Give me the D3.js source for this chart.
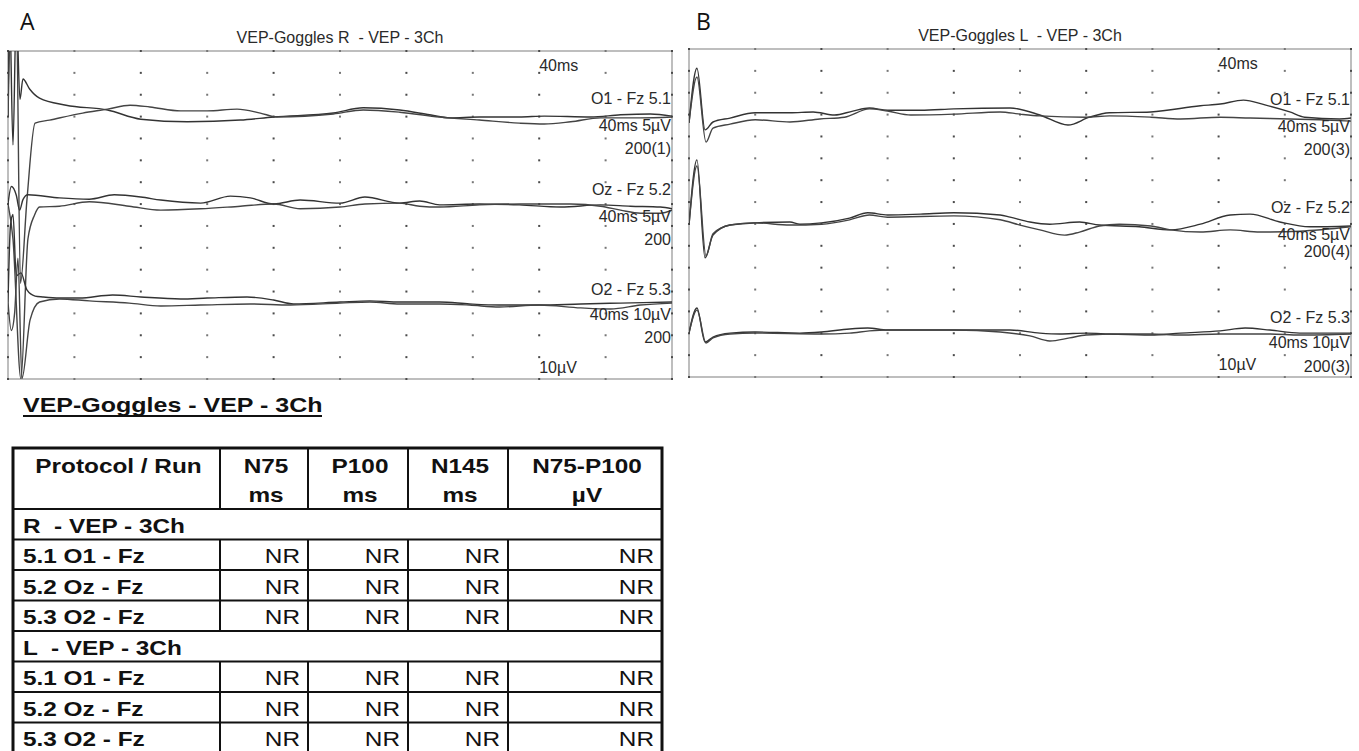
<!DOCTYPE html>
<html><head><meta charset="utf-8">
<script src="https://cdn.jsdelivr.net/npm/d3@7/dist/d3.min.js"></script>
<style>
html,body{margin:0;padding:0;background:#fff;}
svg{display:block;}
text{white-space:pre;}
</style></head><body>
<svg id="chart" width="1359" height="751"></svg>
<script>
// ---------------- DATA ----------------
const timeDomainMs = [0, 400];          // 10 divisions of 40 ms
const divisionsX = 10, divisionsY = 15;
const panelLetters = ["A", "B"];
const panelTitles = ["VEP-Goggles R  - VEP - 3Ch", "VEP-Goggles L  - VEP - 3Ch"];
const channelNames = ["O1 - Fz 5.1", "Oz - Fz 5.2", "O2 - Fz 5.3"];
const channelSensitivity = [5, 5, 10];   // µV per division
const channelScaleText = ["40ms 5µV", "40ms 5µV", "40ms 10µV"];
const rightSweeps = ["200(1)", "200", "200"];
const leftSweeps = ["200(3)", "200(4)", "200(3)"];
const timeBarLabel = "40ms";
const ampBarLabel = "10µV";

// traces: [ms, µV]  (right eye)
const R_O1_run1 = [[0,0],[1,25],[3,-6.4],[5,25],[7.2,4],[9,8.7],[13,6.4],[19,4.3],[35,2.7],[60,1.6],[80,-0.5],[108,-1.1],[140,-0.7],[160,0],[196,0.9],[214,2.1],[236,1.6],[254,0.5],[266,-0.2],[284,0],[308,0],[323,0.2],[351,0],[369,0.5],[387,0.7],[400,0.2]];
const R_O1_run2 = [[0,0],[2,25],[5,25],[7.5,-38],[11.4,-19],[16.3,-1.4],[25,-0.7],[45,0.9],[60,1.8],[73.5,2.7],[85.5,2.3],[104,1.4],[120,1.4],[138,1.8],[152,0.9],[162,0],[196,0.7],[214,1.6],[236,1.1],[260,0],[284,-0.7],[308,-1.4],[323,-1.6],[339,-1.1],[357,-0.2],[381,-0.2],[400,0]];
const R_Oz_run1 = [[0,0],[2,4],[5,2],[7,-1.4],[9,1],[12,2.1],[31,1.4],[49,1.1],[64,2.1],[80,1.6],[92,0.9],[116,0.2],[134,1.8],[146,1.4],[160,0],[176,0.9],[200,0.2],[215,1.6],[236,0.2],[248,0.7],[260,-0.2],[284,0],[308,-0.2],[333,-0.7],[357,-0.2],[375,-0.5],[393,-0.7],[400,-1.1]];
const R_Oz_run2 = [[0,0],[3,-8],[7.8,-40],[12,-8],[16,-2.5],[19,-0.7],[31,-0.5],[49,0.5],[73,-0.5],[92,-1.4],[116,-1.1],[140,-0.5],[160,0],[176,-1.1],[200,-0.7],[215,0],[236,0.2],[248,-0.5],[260,-0.7],[284,-0.2],[308,0],[339,0],[357,-0.5],[369,-1.4],[381,-2.1],[393,-2.1],[400,-1.4]];
const R_O2_run1 = [[0,0],[1.5,35],[3,40],[5,12],[7.8,13.3],[11.4,5.5],[16.3,2.7],[21,2.3],[31,1.8],[43,1.8],[63,3.2],[80,2.3],[104,1.4],[120,1.8],[144,2.3],[160,0.9],[172,-0.9],[200,0],[218,0.5],[236,0],[260,0],[278,-0.9],[296,-1.4],[320,-1.4],[345,-0.9],[369,-0.5],[400,0]];
const R_O2_run2 = [[0,0],[2,-13],[4,-5],[6,20],[8.4,-35],[13.3,-8.2],[19,0],[31,1.4],[49,0.5],[73,-0.5],[92,-1.8],[116,-1.4],[146,-0.9],[170,-1.4],[200,-0.5],[218,0],[236,-0.9],[260,-0.9],[278,-1.4],[296,-2.3],[320,-1.4],[345,-2.7],[363,-3.2],[381,-1.4],[400,-0.5]];

// traces: [ms, µV]  (left eye)
const L_O1_run1 = [[0,-1.8],[4.8,10.7],[9.7,-3.4],[14.5,-1.6],[24.8,-0.7],[40,0.5],[61,0.5],[75,0.7],[88,0],[99,0.9],[109,1.6],[120,1.1],[140,1.1],[160,1.4],[194,1.6],[212,0],[229,-2.3],[242,-0.5],[254,0.5],[279,0.7],[309,2.1],[321,2.5],[335,3.4],[348,2.3],[363,0.7],[372,-0.5],[393,-0.9],[400,-0.7]];
const L_O1_run2 = [[0,-1.8],[4.8,8.7],[10.3,-6.2],[14.5,-3],[24.8,-2.1],[40,-1.1],[61,-1.6],[79,-0.9],[94,-0.5],[109,1.4],[120,0.9],[134,0],[160,0.2],[188,0.7],[200,0.2],[212,-0.2],[240,-0.5],[254,-0.2],[279,-0.5],[297,-0.9],[321,-0.5],[339,-0.7],[363,-0.9],[381,-1.1],[400,-1.4]];
const L_Oz_run1 = [[0,-0.7],[4.8,14.2],[9.7,-8.2],[14.5,-3],[24.8,-0.7],[40,-0.2],[61,0],[67,-0.5],[80,-0.2],[97,0.9],[108,2.1],[120,1.6],[140,1.8],[160,2.1],[188,1.6],[194,1.1],[206,0],[218,-0.5],[236,0],[248,-0.7],[272,-1.1],[291,-1.8],[309,-0.5],[327,1.6],[339,1.8],[357,0],[375,-1.1],[400,-0.9]];
const L_Oz_run2 = [[0,-0.7],[4.8,12.8],[10.3,-7.8],[14.5,-2.7],[24.8,-0.7],[40,-0.2],[61,-0.7],[80,-0.5],[97,0.5],[109,1.6],[120,1.1],[160,1.4],[188,0.5],[200,-0.7],[212,-1.8],[227,-3],[236,-2.3],[248,-0.9],[260,-0.5],[279,-0.9],[291,-1.8],[309,-2.3],[327,-1.8],[345,-2.3],[369,-2.1],[400,-1.1]];
const L_O2_run1 = [[0,-0.5],[4.8,11],[9.7,-4.6],[14.5,-2.3],[24.8,-0.5],[40,0],[67,-0.5],[80,0],[97,1.4],[108,1.8],[120,0.9],[160,0.9],[194,0.9],[212,-0.5],[224,-0.9],[240,-0.5],[254,-0.9],[279,-1.4],[297,-0.5],[321,0.5],[336,1.8],[351,0.9],[369,-0.5],[400,-0.5]];
const L_O2_run2 = [[0,-0.5],[4.8,10],[10.3,-5],[14.5,-2.7],[24.8,-0.9],[40,-0.5],[80,-0.9],[97,-0.5],[109,0.5],[120,0.9],[160,0.9],[188,0],[206,-1.8],[218,-4.1],[230,-2.7],[240,-1.4],[260,-0.9],[279,-0.9],[297,-1.4],[321,-0.9],[351,-0.9],[369,-1.4],[400,-0.9]];

const rightTraces = [[R_O1_run1, R_O1_run2], [R_Oz_run1, R_Oz_run2], [R_O2_run1, R_O2_run2]];
const leftTraces  = [[L_O1_run1, L_O1_run2], [L_Oz_run1, L_Oz_run2], [L_O2_run1, L_O2_run2]];

// table
const tableTitle = "VEP-Goggles - VEP - 3Ch";
const tableColumns = ["Protocol / Run", "N75", "P100", "N145", "N75-P100"];
const tableUnits = ["", "ms", "ms", "ms", "µV"];
const tableSections = ["R  - VEP - 3Ch", "L  - VEP - 3Ch"];
const tableRuns = ["5.1 O1 - Fz", "5.2 Oz - Fz", "5.3 O2 - Fz"];
const rightResults = [["NR","NR","NR","NR"],["NR","NR","NR","NR"],["NR","NR","NR","NR"]];
const leftResults  = [["NR","NR","NR","NR"],["NR","NR","NR","NR"],["NR","NR","NR","NR"]];

// ---------------- DRAW ----------------
const svg = d3.select("#chart");
const FONT = "'Liberation Sans', Arial, sans-serif";

const panels = [
  {x0: 8, x1: 672, y0: 51, y1: 379, bases: [117, 204, 302], traces: rightTraces, sweeps: rightSweeps,
   letterX: 20, titleY: 43,
   nameY: [104, 195, 295], scaleY: [131, 222, 320], sweepY: [154, 245, 343], topY: 71, ampY: 373},
  {x0: 689, x1: 1351, y0: 49, y1: 377, bases: [115, 222, 332], traces: leftTraces, sweeps: leftSweeps,
   letterX: 696, titleY: 41,
   nameY: [105, 213, 323], scaleY: [132, 240, 348], sweepY: [155, 257, 372], topY: 69, ampY: 370}
];

panels.forEach((p, pi) => {
  const g = svg.append("g");
  const x = d3.scaleLinear().domain(timeDomainMs).range([p.x0, p.x1]);
  const divH = (p.y1 - p.y0) / divisionsY;
  const divW = (p.x1 - p.x0) / divisionsX;

  // letter
  svg.append("text").attr("x", p.letterX).attr("y", 30)
    .attr("font-family", "'Open Sans', 'Noto Sans', sans-serif").attr("font-size", 23)
    .attr("font-weight", 500).attr("fill", "#111").text(panelLetters[pi]);
  // title
  svg.append("text").attr("x", (p.x0 + p.x1) / 2).attr("y", p.titleY)
    .attr("text-anchor", "middle").attr("font-family", FONT).attr("font-size", 16)
    .attr("fill", "#2a2a2a").text(panelTitles[pi]);

  // frame
  g.append("rect").attr("x", p.x0).attr("y", p.y0).attr("width", p.x1 - p.x0).attr("height", p.y1 - p.y0)
    .attr("fill", "none").attr("stroke", "#a9a9a9").attr("stroke-width", 1.5);

  // grid dots
  const pts = [];
  for (let i = 0; i <= divisionsX; i++) for (let j = 0; j <= divisionsY; j++) pts.push([i, j]);
  g.selectAll("rect.dot").data(pts).enter().append("rect").attr("class", "dot")
    .attr("x", d => p.x0 + d[0] * divW - 1).attr("y", d => p.y0 + d[1] * divH - 1)
    .attr("width", 2).attr("height", 2).attr("fill", d => (d[0] % 2 === 1 ? "#777" : "#4a4a4a"));

  // clip
  const cid = "clip" + pi;
  svg.append("clipPath").attr("id", cid).append("rect")
    .attr("x", p.x0).attr("y", p.y0).attr("width", p.x1 - p.x0).attr("height", p.y1 - p.y0);

  // traces
  p.traces.forEach((pair, ci) => {
    const y = d3.scaleLinear().domain([0, channelSensitivity[ci]]).range([p.bases[ci], p.bases[ci] - divH]);
    const line = d3.line().x(d => x(d[0])).y(d => y(d[1])).curve(d3.curveMonotoneX);
    pair.forEach((run, ri) => {
      g.append("path").attr("d", line(run)).attr("clip-path", `url(#${cid})`)
        .attr("fill", "none").attr("stroke", ri === 0 ? "#333" : "#444").attr("stroke-width", 1.4)
        .attr("stroke-linejoin", "round");
    });
  });

  // labels
  const lab = (tx, ty, s, anchor) => g.append("text").attr("x", tx).attr("y", ty)
    .attr("text-anchor", anchor).attr("font-family", FONT).attr("font-size", 16)
    .attr("fill", "#2a2a2a").text(s);
  const xr = p.x1 - 1;
  const xMark = p.x0 + 8 * divW;
  lab(xMark, p.topY, timeBarLabel, "start");
  lab(xMark, p.ampY, ampBarLabel, "start");
  channelNames.forEach((n, ci) => {
    lab(xr, p.nameY[ci], n, "end");
    lab(xr, p.scaleY[ci], channelScaleText[ci], "end");
    lab(xr, p.sweepY[ci], p.sweeps[ci], "end");
  });
});

// ---------------- TABLE ----------------
const tg = svg.append("g");
const SX = 1.16;
const ttext = (tx, ty, s, opts) => {
  const o = Object.assign({anchor: "start", bold: false, sx: SX}, opts || {});
  return tg.append("text").attr("transform", `translate(${tx},${ty}) scale(${o.sx},1)`)
    .attr("text-anchor", o.anchor).attr("font-family", FONT).attr("font-size", 21)
    .attr("font-weight", o.bold ? "bold" : "normal").attr("fill", "#111").text(s);
};

ttext(23, 412, tableTitle, {bold: true, sx: 1.19});
tg.append("line").attr("x1", 23).attr("x2", 322).attr("y1", 416).attr("y2", 416)
  .attr("stroke", "#111").attr("stroke-width", 2);

const colX = [13, 220, 308, 408, 508, 662];
const tableTop = 448, headerBottom = 509, rowH = 30.5;
const rows = [];
[tableSections[0], tableSections[1]].forEach((sec, si) => {
  rows.push({type: "section", label: sec});
  const res = si === 0 ? rightResults : leftResults;
  tableRuns.forEach((r, ri) => rows.push({type: "run", label: r, vals: res[ri]}));
});
const rowTop = i => headerBottom + i * rowH;
const tableBottom = rowTop(rows.length);

// header
tableColumns.forEach((c, i) => {
  const cx = (colX[i] + colX[i + 1]) / 2 + 2;
  ttext(cx, 473, c, {anchor: "middle", bold: true});
  if (tableUnits[i]) ttext(cx, 502, tableUnits[i], {anchor: "middle", bold: true});
});
for (let i = 1; i < colX.length - 1; i++) {
  tg.append("line").attr("x1", colX[i]).attr("x2", colX[i]).attr("y1", tableTop).attr("y2", headerBottom)
    .attr("stroke", "#111").attr("stroke-width", 2);
}
rows.forEach((r, i) => {
  const top = rowTop(i), bot = top + rowH;
  tg.append("line").attr("x1", colX[0]).attr("x2", colX[colX.length - 1]).attr("y1", top).attr("y2", top)
    .attr("stroke", "#111").attr("stroke-width", 2);
  ttext(23, bot - 7, r.label, {bold: true});
  if (r.type === "run") {
    for (let c = 1; c < colX.length - 1; c++) {
      tg.append("line").attr("x1", colX[c]).attr("x2", colX[c]).attr("y1", top).attr("y2", bot)
        .attr("stroke", "#111").attr("stroke-width", 2);
    }
    r.vals.forEach((v, c) => ttext(colX[c + 2] - 8, bot - 7, v, {anchor: "end"}));
  }
});
tg.append("rect").attr("x", colX[0]).attr("y", tableTop).attr("width", colX[colX.length - 1] - colX[0])
  .attr("height", tableBottom - tableTop).attr("fill", "none").attr("stroke", "#111").attr("stroke-width", 3);
</script></body></html>
